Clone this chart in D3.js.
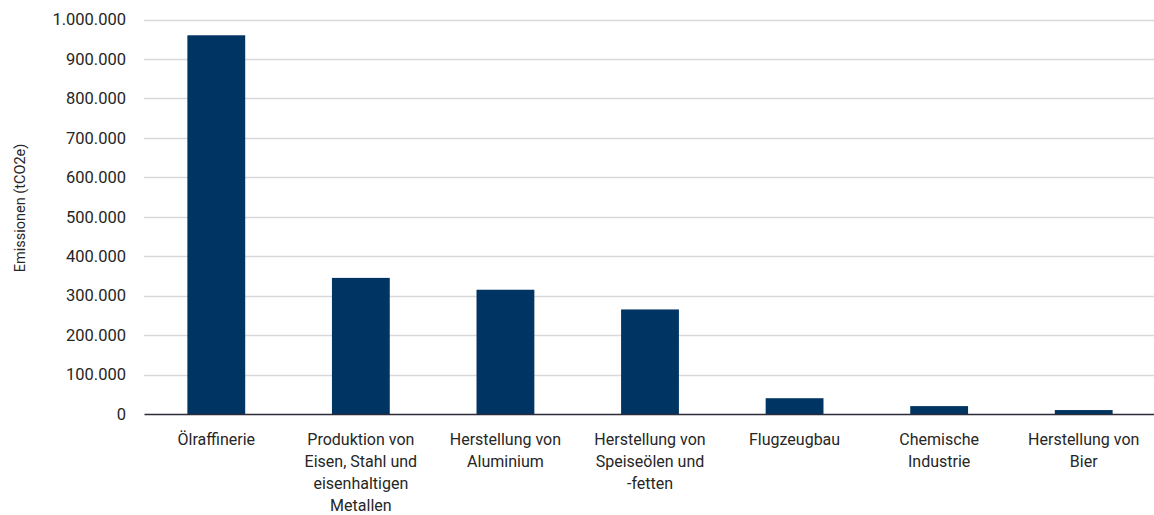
<!DOCTYPE html>
<html>
<head>
<meta charset="utf-8">
<script src="https://cdn.jsdelivr.net/npm/d3@7"></script>
<style>
  html, body { margin: 0; padding: 0; background: #ffffff; }
  svg text { font-family: Roboto, "Noto Sans", sans-serif; fill: #262626; }
</style>
</head>
<body>
<svg id="chart" width="1154" height="515"></svg>
<script>
// Emissionen je Branche (tCO2e)
const categories = [
  "Ölraffinerie",
  "Produktion von Eisen, Stahl und eisenhaltigen Metallen",
  "Herstellung von Aluminium",
  "Herstellung von Speiseölen und -fetten",
  "Flugzeugbau",
  "Chemische Industrie",
  "Herstellung von Bier"
];
// Zeilenumbrüche der Achsenbeschriftungen
const labelLines = [
  ["Ölraffinerie"],
  ["Produktion von", "Eisen, Stahl und", "eisenhaltigen", "Metallen"],
  ["Herstellung von", "Aluminium"],
  ["Herstellung von", "Speiseölen und", "-fetten"],
  ["Flugzeugbau"],
  ["Chemische", "Industrie"],
  ["Herstellung von", "Bier"]
];
const emissions = [960000, 345000, 315000, 265000, 40000, 20000, 10000];
const yTicks = [0, 100000, 200000, 300000, 400000, 500000, 600000, 700000, 800000, 900000, 1000000];
const yTitle = "Emissionen (tCO2e)";

const de = d3.formatLocale({ decimal: ",", thousands: ".", grouping: [3], currency: ["", " €"] });
const fmt = de.format(",d");

const svg = d3.select("#chart");
const margin = { left: 144, right: -2, top: 19.5, bottom: 101 };
const W = 1154, H = 515;

const x = d3.scaleBand()
  .domain(categories)
  .range([margin.left, W - margin.right])
  .paddingInner(0.6)
  .paddingOuter(0.3);

const y = d3.scaleLinear()
  .domain([0, 1000000])
  .range([H - margin.bottom, margin.top]);

// Gitterlinien
svg.append("g")
  .selectAll("line")
  .data(yTicks.filter(d => d > 0))
  .join("line")
  .attr("x1", margin.left)
  .attr("x2", W)
  .attr("y1", d => Math.round(y(d)) + 0.5)
  .attr("y2", d => Math.round(y(d)) + 0.5)
  .attr("stroke", "#d9d9d9")
  .attr("stroke-width", 1.3);

// Y-Achse (nur Beschriftungen)
const yAxis = d3.axisLeft(y).tickValues(yTicks).tickFormat(fmt).tickSize(0).tickPadding(0);
svg.append("g")
  .attr("transform", `translate(126,0)`)
  .call(yAxis)
  .call(g => g.select(".domain").remove())
  .selectAll("text")
  .style("font-size", "16.5px")
  .attr("fill", "#262626");

// Balken
svg.append("g")
  .selectAll("rect")
  .data(emissions)
  .join("rect")
  .attr("x", (d, i) => x(categories[i]))
  .attr("width", x.bandwidth())
  .attr("y", d => y(d))
  .attr("height", d => y(0) - y(d))
  .attr("fill", "#003462");

// X-Achse
const xAxis = d3.axisBottom(x).tickSize(0).tickFormat("");
const gx = svg.append("g")
  .attr("transform", `translate(0,${y(0)})`)
  .call(xAxis);
gx.select(".domain").attr("stroke", "#2b2b3a").attr("stroke-width", 1.5);
gx.selectAll(".tick text").remove();

// Kategorienbeschriftungen, mehrzeilig
const lab = svg.append("g")
  .selectAll("text")
  .data(categories)
  .join("text")
  .attr("text-anchor", "middle")
  .attr("x", d => x(d) + x.bandwidth() / 2)
  .attr("y", 444.5)
  .style("font-size", "16px");
lab.each(function(d, i) {
  d3.select(this).selectAll("tspan")
    .data(labelLines[i])
    .join("tspan")
    .attr("x", x(d) + x.bandwidth() / 2)
    .attr("dy", (t, j) => j === 0 ? 0 : 22)
    .text(t => t);
});

// Achsentitel
svg.append("text")
  .attr("transform", `translate(25,208) rotate(-90)`)
  .attr("text-anchor", "middle")
  .style("font-size", "14.5px")
  .text(yTitle);
</script>
</body>
</html>
